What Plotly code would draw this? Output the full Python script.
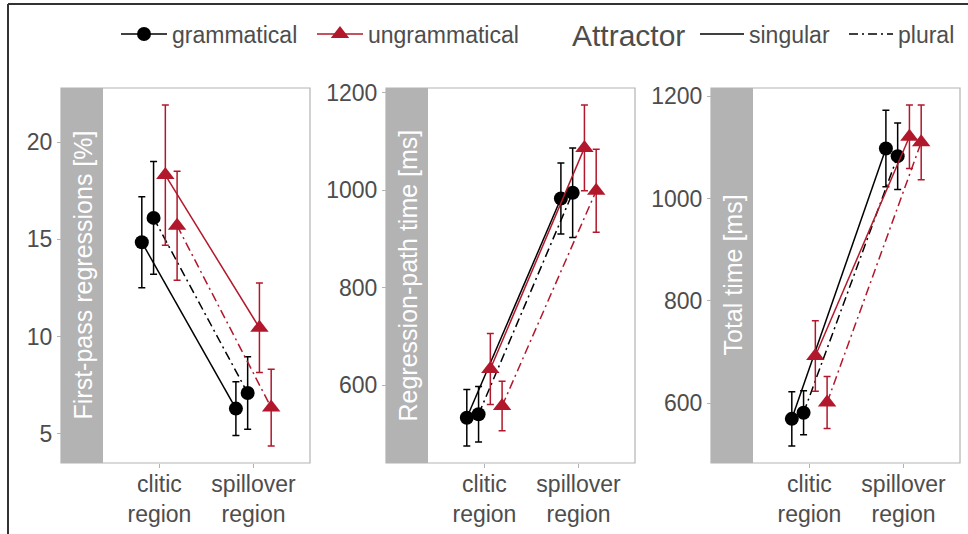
import plotly.graph_objects as go

# ---------------- data ----------------
regions = ["clitic", "spillover"]
region_ticktext = ["clitic<br>region", "spillover<br>region"]

measures = ["First-pass regressions [%]", "Regression-path time [ms]", "Total time [ms]"]

# condition groups: (grammaticality, attractor)
groups = [("grammatical", "singular"), ("grammatical", "plural"),
          ("ungrammatical", "singular"), ("ungrammatical", "plural")]

# means [clitic, spillover] and half-widths of CIs
fpr_mean = {
    ("grammatical", "singular"): [14.85, 6.30],
    ("grammatical", "plural"): [16.10, 7.10],
    ("ungrammatical", "singular"): [18.30, 10.45],
    ("ungrammatical", "plural"): [15.70, 6.35],
}
fpr_err = {
    ("grammatical", "singular"): [2.34, 1.38],
    ("grammatical", "plural"): [2.90, 1.86],
    ("ungrammatical", "singular"): [3.60, 2.30],
    ("ungrammatical", "plural"): [2.80, 1.97],
}
rpt_mean = {
    ("grammatical", "singular"): [533, 983],
    ("grammatical", "plural"): [540, 995],
    ("ungrammatical", "singular"): [633, 1087],
    ("ungrammatical", "plural"): [557, 999],
}
rpt_err = {
    ("grammatical", "singular"): [58, 73],
    ("grammatical", "plural"): [57, 92],
    ("ungrammatical", "singular"): [73, 88],
    ("ungrammatical", "plural"): [51, 85],
}
tt_mean = {
    ("grammatical", "singular"): [569, 1098],
    ("grammatical", "plural"): [581, 1083],
    ("ungrammatical", "singular"): [692, 1121],
    ("ungrammatical", "plural"): [601, 1110],
}
tt_err = {
    ("grammatical", "singular"): [53, 75],
    ("grammatical", "plural"): [43, 65],
    ("ungrammatical", "singular"): [69, 62],
    ("ungrammatical", "plural"): [51, 73],
}
yticks = [[5, 10, 15, 20], [600, 800, 1000, 1200], [600, 800, 1000, 1200]]

panels = [(fpr_mean, fpr_err), (rpt_mean, rpt_err), (tt_mean, tt_err)]

# ---------------- styling ----------------
W, H = 968, 534
FONT = "Liberation Sans, Arial, sans-serif"
RED = "#B2182B"
colors = {"grammatical": "black", "ungrammatical": RED}
symbols = {"grammatical": "circle", "ungrammatical": "triangle-up"}
msize = {"grammatical": 14, "ungrammatical": 16}
dashes = {"singular": "solid", "plural": "9px,4px,2px,4px"}
dodge = [-0.1875, -0.0625, 0.0625, 0.1875]
GREY70 = "#b3b3b3"
TXT = "#4d4d4d"

def px(x):
    return x / W

def py(y):
    return 1 - y / H

# panel geometry in pixels: (strip_left, panel_left, panel_right)
geo = [(61, 103, 310), (386, 428, 635), (711, 753, 960)]
TOP, BOT = 88, 463

fig = go.Figure()
shapes = []
annotations = []

for i, ((mean, err), (sl, pl, pr)) in enumerate(zip(panels, geo)):
    n = "" if i == 0 else str(i + 1)
    xa, ya = "x" + n, "y" + n
    for gi, g in enumerate(groups):
        gram, attr = g
        xs = [k + 1 + dodge[gi] for k in range(len(regions))]
        fig.add_trace(go.Scatter(
            x=xs, y=mean[g], xaxis=xa, yaxis=ya,
            mode="lines+markers",
            line=dict(color=colors[gram], width=1.5, dash=dashes[attr]),
            marker=dict(symbol=symbols[gram], size=msize[gram], color=colors[gram]),
            error_y=dict(type="data", array=err[g], color=colors[gram], width=3.5, thickness=1.5),
            showlegend=False, hoverinfo="skip",
        ))
    lows = [m - e for g in groups for m, e in zip(mean[g], err[g])]
    highs = [m + e for g in groups for m, e in zip(mean[g], err[g])]
    lo, hi = min(lows), max(highs)
    pad = (hi - lo) * 0.05
    fig.update_layout(**{
        "xaxis" + n: dict(domain=[px(pl), px(pr)], anchor=ya, range=[0.4, 2.6],
                          tickvals=[1, 2], ticktext=region_ticktext,
                          ticks="outside", ticklen=4, tickcolor=GREY70, tickwidth=1,
                          ticklabelstandoff=-4,
                          showgrid=False, zeroline=False, showline=False,
                          tickfont=dict(size=23, color=TXT, family=FONT)),
        "yaxis" + n: dict(domain=[py(BOT), py(TOP)], anchor="free", position=px(sl),
                          range=[lo - pad, hi + pad], tickvals=yticks[i],
                          ticks="outside", ticklen=4, tickcolor=GREY70, tickwidth=1,
                          showgrid=False, zeroline=False, showline=False,
                          tickfont=dict(size=23, color=TXT, family=FONT)),
    })
    # strip
    shapes.append(dict(type="rect", xref="paper", yref="paper",
                       x0=px(sl), x1=px(pl), y0=py(BOT), y1=py(TOP),
                       fillcolor=GREY70, line=dict(width=0), layer="below"))
    # panel border
    shapes.append(dict(type="rect", xref="paper", yref="paper",
                       x0=px(sl), x1=px(pr), y0=py(BOT), y1=py(TOP),
                       line=dict(color=GREY70, width=1.2), fillcolor="rgba(0,0,0,0)"))
    annotations.append(dict(text=measures[i], xref="paper", yref="paper",
                            x=px((sl + pl) / 2), y=py((TOP + BOT) / 2),
                            xanchor="center", yanchor="middle",
                            textangle=-90, showarrow=False,
                            font=dict(size=25, color="white", family=FONT)))

# outer frame lines
shapes.append(dict(type="line", xref="paper", yref="paper", x0=px(8), x1=1.01,
                   y0=py(4), y1=py(4), line=dict(color="#333333", width=2)))
shapes.append(dict(type="line", xref="paper", yref="paper", x0=px(8), x1=px(8),
                   y0=py(4), y1=-0.01, line=dict(color="#333333", width=2)))

LEG_Y = 34
# legend title for attractor
annotations.append(dict(text="Attractor", xref="paper", yref="paper",
                        x=px(570), y=py(LEG_Y + 1), xanchor="left", yanchor="middle",
                        showarrow=False, font=dict(size=30, color=TXT, family=FONT)))

# legend entries (one legend box per entry for exact placement)
leg_ids = {"grammatical": "legend", "ungrammatical": "legend3",
           "singular": "legend2", "plural": "legend4"}
for gram in ["grammatical", "ungrammatical"]:
    fig.add_trace(go.Scatter(x=[None], y=[None], mode="lines+markers", name=gram,
                             line=dict(color=colors[gram], width=1.5),
                             marker=dict(symbol=symbols[gram], size=msize[gram], color=colors[gram]),
                             legend=leg_ids[gram], showlegend=True))
for attr in ["singular", "plural"]:
    fig.add_trace(go.Scatter(x=[None], y=[None], mode="lines", name=attr,
                             line=dict(color="black", width=1.5, dash=dashes[attr]),
                             legend=leg_ids[attr], showlegend=True))

def leg(xpix, iw):
    return dict(orientation="h", x=px(xpix), y=py(LEG_Y), xanchor="left", yanchor="middle",
                font=dict(size=23, color=TXT, family=FONT), itemwidth=iw,
                bgcolor="rgba(0,0,0,0)")

fig.update_layout(
    width=W, height=H,
    margin=dict(l=0, r=0, t=0, b=0, autoexpand=False),
    paper_bgcolor="white", plot_bgcolor="white",
    font=dict(family=FONT, color=TXT),
    shapes=shapes, annotations=annotations,
    legend=leg(116, 46),
    legend3=leg(312, 46),
    legend2=leg(695, 44),
    legend4=leg(844, 44),
)

fig.write_html("out.html", config={"displayModeBar": False},
               post_script="document.body.style.margin='0px';")
